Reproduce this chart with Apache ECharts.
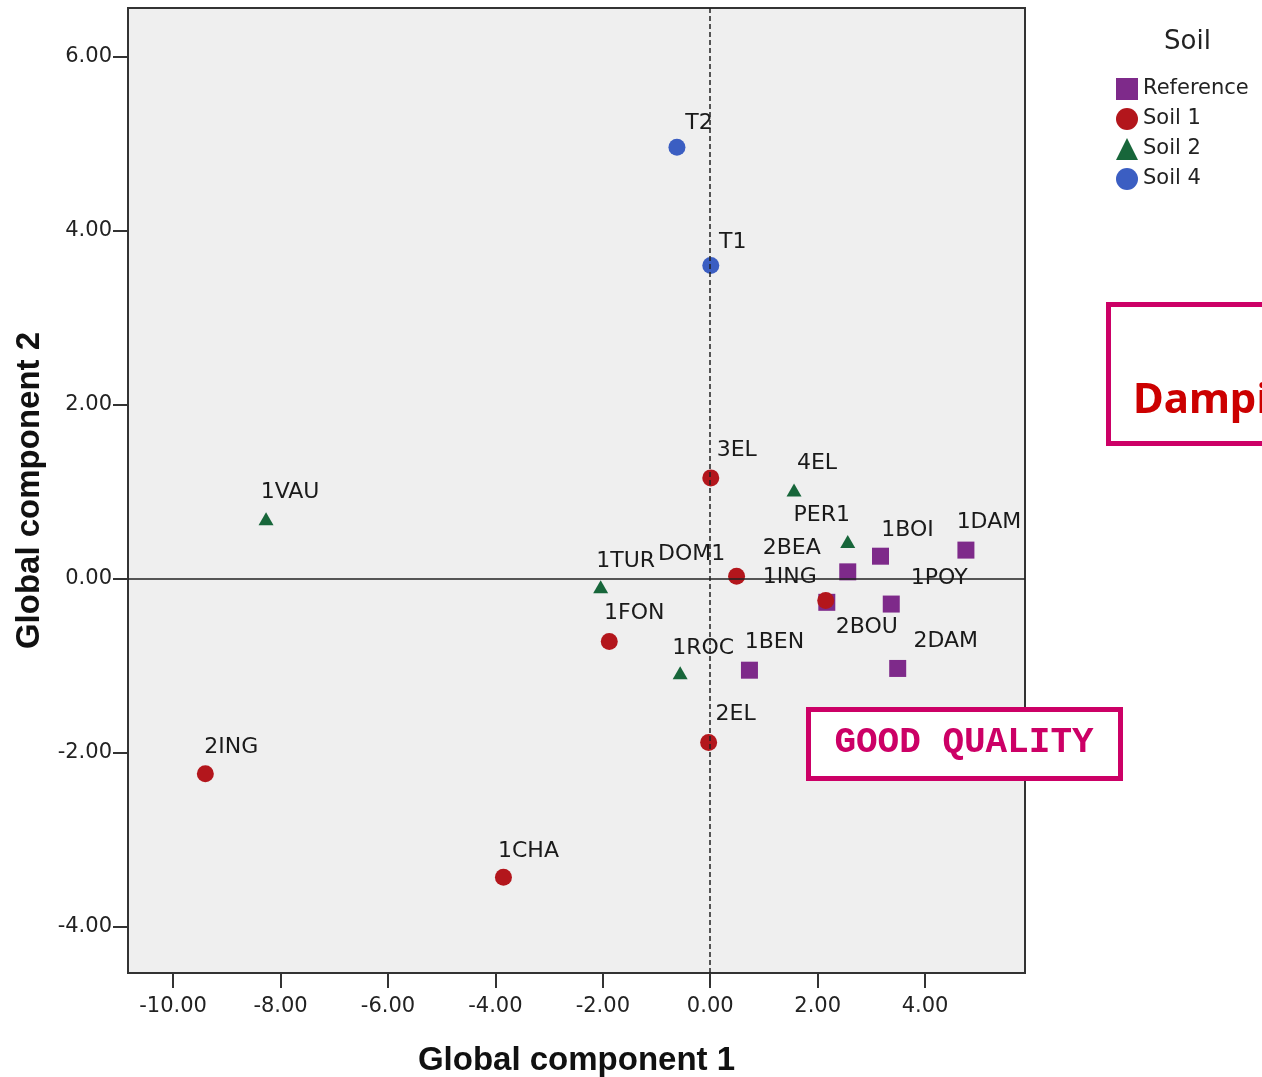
<!DOCTYPE html>
<html>
<head>
<meta charset="utf-8">
<script src="https://cdn.jsdelivr.net/npm/echarts@6/dist/echarts.min.js"></script>
<style>
html,body{margin:0;padding:0;background:#fff;}
#chart{width:1262px;height:1077px;}
</style>
</head>
<body>
<div id="chart"></div>
<script>
// ---- data ----
const refNames = ['1BOI','1DAM','2BEA','2BOU','1POY','1BEN','2DAM'];
const refX = [3.17, 4.76, 2.56, 2.17, 3.37, 0.73, 3.49];
const refY = [0.26, 0.33, 0.08, -0.27, -0.29, -1.05, -1.03];

const soil1Names = ['3EL','DOM1','1ING','1FON','2EL','2ING','1CHA'];
const soil1X = [0.01, 0.49, 2.15, -1.88, -0.03, -9.40, -3.85];
const soil1Y = [1.16, 0.03, -0.25, -0.72, -1.88, -2.24, -3.43];

const soil2Names = ['4EL','1VAU','PER1','1TUR','1ROC'];
const soil2X = [1.56, -8.27, 2.56, -2.04, -0.56];
const soil2Y = [1.02, 0.69, 0.43, -0.09, -1.08];

const soil4Names = ['T2','T1'];
const soil4X = [-0.62, 0.01];
const soil4Y = [4.96, 3.60];

const xTicks = [-10, -8, -6, -4, -2, 0, 2, 4];
const yTicks = [-4, -2, 0, 2, 4, 6];

// ---- label placement (style) ----
const labelOffset = {
  'T2':[22,-24],'T1':[22,-23],'3EL':[26,-28],'4EL':[23,-27],'1VAU':[24,-26],
  'PER1':[-26,-26],'1BOI':[27,-26],'1DAM':[23,-28],'2BEA':[-56,-24],'DOM1':[-45,-22],
  '1TUR':[25,-25],'1ING':[-36,-23],'1POY':[48,-26],'2BOU':[40,25],'1FON':[25,-28],
  '1ROC':[23,-25],'1BEN':[25,-28],'2DAM':[48,-27],'2EL':[27,-28],'2ING':[26,-26],'1CHA':[25,-26]
};

function build(names, xs, ys) {
  return names.map((n, i) => ({
    value: [xs[i], ys[i]],
    name: n,
    label: { offset: labelOffset[n] || [20, -25] }
  }));
}

const baseFont = 'Liberation Sans, Arial, sans-serif';
const wideFont = 'DejaVu Sans, sans-serif';
const labelCfg = {
  show: true, position: 'inside', formatter: p => p.name,
  color: '#1a1a1a', fontFamily: wideFont, fontSize: 22,
  align: 'center', verticalAlign: 'middle'
};

const chart = echarts.init(document.getElementById('chart'), null, {renderer: 'canvas'});
chart.setOption({
  animation: false,
  backgroundColor: '#ffffff',
  title: {
    text: 'Soil', left: 1159, top: 24,
    textStyle: { fontFamily: wideFont, fontSize: 26, fontWeight: 'normal', color: '#222' }
  },
  legend: {
    data: [
      {name: 'Reference', icon: 'rect'},
      {name: 'Soil 1', icon: 'circle'},
      {name: 'Soil 2', icon: 'triangle'},
      {name: 'Soil 4', icon: 'circle'}
    ],
    orient: 'vertical', left: 1111, top: 73,
    itemWidth: 22, itemHeight: 22, itemGap: 8,
    textStyle: { fontFamily: wideFont, fontSize: 21, color: '#222', padding: [0,0,0,0] }
  },
  grid: {
    left: 128, top: 8, width: 897, height: 965,
    show: true, backgroundColor: '#efefef', borderColor: '#333', borderWidth: 2,
    containLabel: false, outerBoundsMode: 'none'
  },
  xAxis: {
    type: 'value', min: -10.84, max: 5.86,
    name: 'Global component 1', nameLocation: 'middle', nameGap: 71,
    nameTextStyle: { fontFamily: baseFont, fontSize: 33, fontWeight: 'bold', color: '#111' },
    axisLine: { show: true, onZero: false, lineStyle: { color: '#333', width: 2 } },
    axisTick: { show: true, length: 15, inside: false, customValues: xTicks, lineStyle: { color: '#333', width: 2 } },
    axisLabel: { customValues: xTicks, margin: 23, formatter: v => v.toFixed(2),
      fontFamily: wideFont, fontSize: 21, color: '#222' },
    splitLine: { show: false }
  },
  yAxis: {
    type: 'value', min: -4.53, max: 6.56,
    name: 'Global component 2', nameLocation: 'middle', nameGap: 82,
    nameTextStyle: { fontFamily: baseFont, fontSize: 33, fontWeight: 'bold', color: '#111' },
    axisLine: { show: true, onZero: false, lineStyle: { color: '#333', width: 2 } },
    axisTick: { show: true, length: 15, inside: false, customValues: yTicks, lineStyle: { color: '#333', width: 2 } },
    axisLabel: { customValues: yTicks, margin: 16, formatter: v => v.toFixed(2),
      fontFamily: wideFont, fontSize: 21, color: '#222' },
    splitLine: { show: false }
  },
  series: [
    {
      name: 'Reference', type: 'scatter', symbol: 'rect', symbolSize: 17,
      itemStyle: { color: '#7e2a8a', opacity: 1 }, label: labelCfg,
      data: build(refNames, refX, refY)
    },
    {
      name: 'Soil 1', type: 'scatter', symbol: 'circle', symbolSize: 17,
      itemStyle: { color: '#b3161c', opacity: 1 }, label: labelCfg,
      data: build(soil1Names, soil1X, soil1Y)
    },
    {
      name: 'Soil 2', type: 'scatter', symbol: 'triangle', symbolSize: [15, 13],
      itemStyle: { color: '#17663a', opacity: 1 }, label: labelCfg,
      data: build(soil2Names, soil2X, soil2Y)
    },
    {
      name: 'Soil 4', type: 'scatter', symbol: 'circle', symbolSize: 17,
      itemStyle: { color: '#3b5ec2', opacity: 1 }, label: labelCfg,
      data: build(soil4Names, soil4X, soil4Y)
    },
    {
      name: 'refLines', type: 'scatter', data: [], z: 5, silent: true,
      markLine: {
        silent: true, symbol: 'none', animation: false,
        label: { show: false },
        data: [
          { xAxis: 0, lineStyle: { type: [5, 3], color: '#222', width: 1.5 } },
          { yAxis: 0, lineStyle: { type: 'solid', color: '#222', width: 1.5 } }
        ]
      }
    }
  ],
  graphic: [
    {
      type: 'rect', z: 100,
      shape: { x: 808.5, y: 709.5, width: 312, height: 69 },
      style: { fill: '#ffffff', stroke: '#cc0066', lineWidth: 5 }
    },
    {
      type: 'text', z: 101, x: 964, y: 743,
      style: { text: 'GOOD QUALITY', fill: '#cc0066', fontFamily: 'Liberation Mono, Courier New, monospace',
        fontSize: 36, fontWeight: 'bold', align: 'center', verticalAlign: 'middle' }
    },
    {
      type: 'rect', z: 100,
      shape: { x: 1108.5, y: 304.5, width: 200, height: 139 },
      style: { fill: '#ffffff', stroke: '#cc0066', lineWidth: 5 }
    },
    {
      type: 'text', z: 101, x: 1133, y: 401,
      style: { text: 'Damping', fill: '#cc0000', fontFamily: 'Noto Sans, DejaVu Sans, sans-serif',
        fontSize: 42, fontWeight: 'bold', align: 'left', verticalAlign: 'middle' }
    }
  ]
});
</script>
</body>
</html>
